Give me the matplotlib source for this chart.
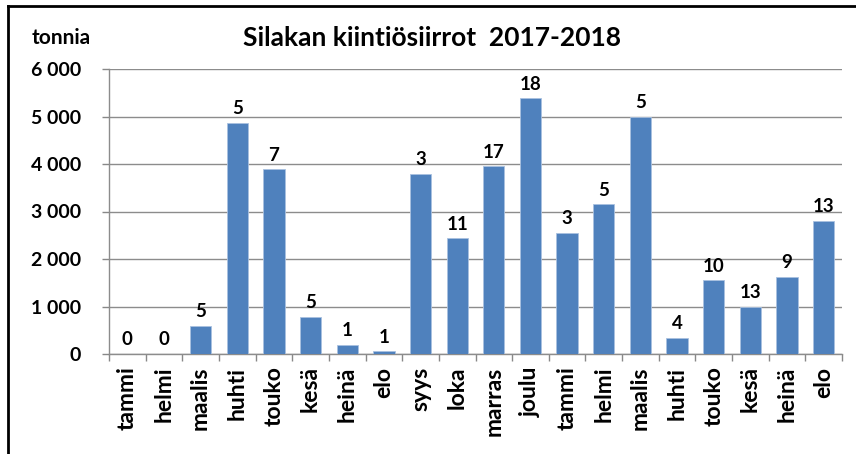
import matplotlib
matplotlib.use("Agg")
from matplotlib import pyplot as plt
from matplotlib.lines import Line2D

# kuukaudet 2017-2018
months = ["tammi", "helmi", "maalis", "huhti", "touko", "kesä", "heinä", "elo",
          "syys", "loka", "marras", "joulu",
          "tammi", "helmi", "maalis", "huhti", "touko", "kesä", "heinä", "elo"]
tonnes = [0, 0, 600, 4870, 3890, 780, 200, 60,
          3800, 2440, 3950, 5380,
          2550, 3150, 5000, 340, 1550, 990, 1630, 2800]
counts = [0, 0, 5, 5, 7, 5, 1, 1,
          3, 11, 17, 18,
          3, 5, 5, 4, 10, 13, 9, 13]
y_ticks = [0, 1000, 2000, 3000, 4000, 5000, 6000]

plt.rcParams["font.family"] = ["Lato", "DejaVu Sans"]
plt.rcParams["font.weight"] = "bold"

fig = plt.figure(figsize=(8.56, 4.54), dpi=100)
ax = fig.add_axes([109 / 856, 1 - 354 / 454, 733 / 856, 285 / 454])

x = list(range(len(months)))
bars = ax.bar(x, tonnes, width=0.58, color="#4F81BD", edgecolor="#A9C1E0",
              linewidth=0.6, zorder=3)
for b, c in zip(bars, counts):
    ax.annotate(str(c), (b.get_x() + b.get_width() / 2, b.get_height()),
                xytext=(0, 4), textcoords="offset points",
                ha="center", va="bottom", fontsize=13.5, fontweight="bold")

ax.set_xlim(-0.5, len(months) - 0.5)
ax.set_ylim(0, 6000)
ax.set_yticks(y_ticks)
ax.set_yticklabels([f"{v:,}".replace(",", " ") for v in y_ticks],
                   fontsize=14, fontweight="bold")
ax.set_xticks(x)
ax.set_xticklabels(months, rotation=90, fontsize=16.5, fontweight="bold")
ax.set_xticks([i - 0.5 for i in range(len(months) + 1)], minor=True)
ax.tick_params(axis="x", which="major", length=0, pad=9)
ax.tick_params(axis="x", which="minor", length=5, color="#888888", width=1)
ax.tick_params(axis="y", length=5, color="#888888", width=1, pad=15)

ax.grid(axis="y", color="#8C8C8C", linewidth=1, zorder=0)
for side in ["top", "right"]:
    ax.spines[side].set_visible(False)
for side in ["left", "bottom"]:
    ax.spines[side].set_color("#8C8C8C")
    ax.spines[side].set_linewidth(1)

fig.text(432 / 856, 1 - 38 / 454, "Silakan kiintiösiirrot  2017-2018",
         ha="center", va="center", fontsize=19, fontweight="bold")
fig.text(61 / 856, 1 - 38 / 454, "tonnia", ha="center", va="center",
         fontsize=15, fontweight="bold")

# kehys
fig.add_artist(Line2D([8 / 856, 1], [1 - 6 / 454, 1 - 6 / 454],
                      transform=fig.transFigure, color="black", linewidth=2))
fig.add_artist(Line2D([8 / 856, 8 / 856], [1 - 6 / 454, 0],
                      transform=fig.transFigure, color="black", linewidth=2))

fig.savefig("out.png", dpi=100)
